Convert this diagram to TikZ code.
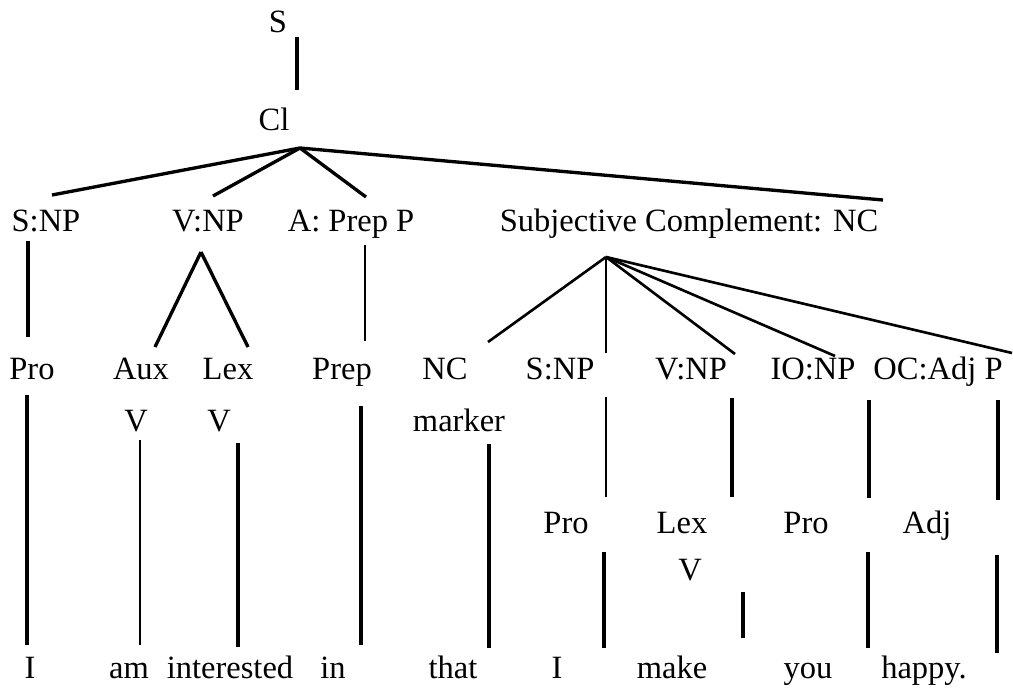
\documentclass[tikz,border=0pt]{standalone}
\usepackage{fontspec}
\setmainfont{Liberation Serif}
\usetikzlibrary{positioning}

\tikzset{
  lbl/.style={anchor=base,inner sep=0pt,font=\fontsize{18.5}{20}\selectfont},
  thinbranch/.style={line width=1.5pt},
  midbranch/.style={line width=1.9pt},
  heavybranch/.style={line width=2.5pt}
}

\begin{document}
\begin{tikzpicture}[x=0.02cm,y=-0.02cm]
\useasboundingbox (0,0) rectangle (1013,693);
% top
\node[lbl] (s) at (278,32) {S};
\node[lbl] (cl) at (274,130) {Cl};
% clause elements
\node[lbl] (snp) at (46,231) {S:NP};
\node[lbl] (vnp) at (208,231) {V:NP};
\node[lbl] (aprep) at (351,231) {A: Prep P};
\node[lbl] (subc) at (689,231) {Subjective Complement: NC};
% second row
\node[lbl] (pro) at (32,379) {Pro};
\node[lbl] (aux) at (141,379) {Aux};
\node[lbl] (lex) at (228,379) {Lex};
\node[lbl] (prep) at (342,379) {Prep};
\node[lbl] (nc) at (445,379) {NC};
\node[lbl] (snpb) at (560,379) {S:NP};
\node[lbl] (vnpb) at (691,379) {V:NP};
\node[lbl] (ionp) at (813,379) {IO:NP};
\node[lbl] (ocadj) at (938,379) {OC:Adj P};
\node[lbl] (auxv) at (136,431) {V};
\node[lbl] (lexv) at (219,431) {V};
\node[lbl] (ncmark) at (459,431) {marker};
% inside the NC
\node[lbl] (prob) at (566,533) {Pro};
\node[lbl] (lexb) at (682,533) {Lex};
\node[lbl] (proc) at (806,533) {Pro};
\node[lbl] (adj) at (927,533) {Adj};
\node[lbl] (lexbv) at (690,580) {V};
% words
\node[lbl] (wI) at (30,678) {I};
\node[lbl] (wAm) at (129,678) {am};
\node[lbl] (wInterested) at (230,678) {interested};
\node[lbl] (wIn) at (333,678) {in};
\node[lbl] (wThat) at (453,678) {that};
\node[lbl] (wIb) at (557,678) {I};
\node[lbl] (wMake) at (672,678) {make};
\node[lbl] (wYou) at (808,678) {you};
\node[lbl] (wHappy) at (924,678) {happy.};
% fan roots
\coordinate (clroot) at (300,148);
\coordinate (vroot) at (201,252);
\coordinate (ncroot) at (606,257);
% fans
\foreach \nm/\x/\y in {snpT/52/195, vnpT/213/196, aprepT/366/197, subcT/883/200}
  \draw[midbranch] (clroot) -- (\x,\y) coordinate (\nm);
\foreach \nm/\x/\y in {auxT/155/347, lexT/248/347}
  \draw[midbranch] (vroot) -- (\x,\y) coordinate (\nm);
\foreach \nm/\x/\y in {ncT/488/342, snpbT/606/353, vnpbT/735/354, ionpT/835/356, ocadjT/1012/353}
  \draw[thinbranch] (ncroot) -- (\x,\y) coordinate (\nm);
% vertical branches
\foreach \nm/\x/\ya/\yb in {prep/365/245/341, am/140/440/645, prob/606/397/497}
  \draw[thinbranch] (\x,\ya) coordinate (\nm a) -- (\x,\yb) coordinate (\nm b);
\foreach \nm/\x/\ya/\yb in {pro/28/241/337, interested/238/443/647, that/489/444/648,
    lexb/732/398/497, adj/998/400/500, wIb/604/552/648, make/743/592/638, happy/997/555/653}
  \draw[midbranch] (\x,\ya) coordinate (\nm a) -- (\x,\yb) coordinate (\nm b);
\foreach \nm/\x/\ya/\yb in {cl/297/37/90, wI/27/395/645, in/361/406/645,
    proc/869/400/498, you/868/552/648}
  \draw[heavybranch] (\x,\ya) coordinate (\nm a) -- (\x,\yb) coordinate (\nm b);
\end{tikzpicture}
\end{document}
